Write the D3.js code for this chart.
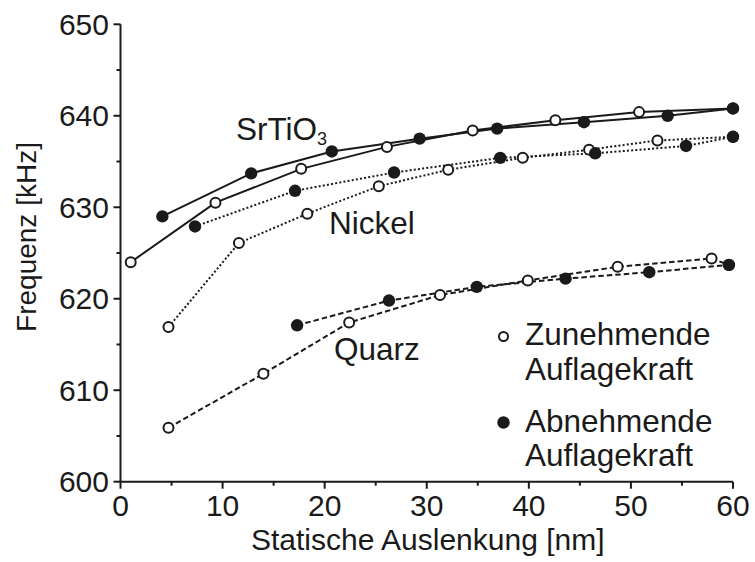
<!DOCTYPE html>
<html>
<head>
<meta charset="utf-8">
<script src="https://cdn.jsdelivr.net/npm/d3@7/dist/d3.min.js"></script>
<style>
  html, body { margin: 0; padding: 0; background: #fff; }
  svg { display: block; }
  text { font-family: "Liberation Sans", Arial, Helvetica, sans-serif; fill: #1a1a1a; }
</style>
</head>
<body>
<svg id="chart" width="755" height="562"></svg>
<script>
// Resonance frequency vs. static deflection, increasing / decreasing load
const xTicks = [0, 10, 20, 30, 40, 50, 60];
const yTicks = [600, 610, 620, 630, 640, 650];

// SrTiO3 (solid line)
const srIncX = [1.0, 9.3, 17.7, 26.1, 34.5, 42.6, 50.8, 60.0];
const srIncY = [624.0, 630.5, 634.2, 636.6, 638.4, 639.5, 640.4, 640.8];
const srDecX = [4.1, 12.8, 20.7, 29.3, 36.9, 45.4, 53.6, 60.0];
const srDecY = [629.0, 633.7, 636.1, 637.5, 638.6, 639.3, 640.0, 640.8];

// Nickel (dotted line)
const niIncX = [4.7, 11.6, 18.3, 25.3, 32.1, 39.4, 45.9, 52.6, 60.0];
const niIncY = [616.9, 626.1, 629.3, 632.3, 634.1, 635.4, 636.3, 637.3, 637.7];
const niDecX = [7.3, 17.1, 26.8, 37.2, 46.5, 55.4, 60.0];
const niDecY = [627.9, 631.8, 633.8, 635.4, 635.9, 636.7, 637.7];

// Quarz (dashed line)
const qzIncX = [4.7, 14.0, 22.4, 31.3, 39.9, 48.7, 57.9, 59.6];
const qzIncY = [605.9, 611.8, 617.4, 620.4, 622.0, 623.5, 624.4, 623.7];
const qzDecX = [17.3, 26.3, 34.9, 43.6, 51.8, 59.6];
const qzDecY = [617.1, 619.8, 621.3, 622.2, 622.9, 623.7];

const zip = (xs, ys) => xs.map((x, i) => [x, ys[i]]);

const series = [
  { inc: zip(srIncX, srIncY), dec: zip(srDecX, srDecY), dash: null },
  { inc: zip(niIncX, niIncY), dec: zip(niDecX, niDecY), dash: "2,2.2" },
  { inc: zip(qzIncX, qzIncY), dec: zip(qzDecX, qzDecY), dash: "5.5,3" }
];

const svg = d3.select("#chart");
const x = d3.scaleLinear().domain([0, 60]).range([120.5, 733]);
const y = d3.scaleLinear().domain([600, 650]).range([481.7, 24.3]);

const FS = 30;
const LFS = 31.5;

// Axes
const ax = svg.append("g").attr("stroke", "#1a1a1a").attr("stroke-width", 2).attr("fill", "none");
ax.append("line").attr("x1", x(0)).attr("x2", x(60)).attr("y1", y(600)).attr("y2", y(600));
ax.append("line").attr("x1", x(0)).attr("x2", x(0)).attr("y1", y(600)).attr("y2", y(650));

d3.range(0, 61, 5).forEach(v => {
  const major = v % 10 === 0;
  ax.append("line").attr("x1", x(v)).attr("x2", x(v))
    .attr("y1", y(600)).attr("y2", y(600) + (major ? 7 : 4));
});
d3.range(600, 651, 5).forEach(v => {
  const major = v % 10 === 0;
  ax.append("line").attr("y1", y(v)).attr("y2", y(v))
    .attr("x1", x(0)).attr("x2", x(0) - (major ? 7 : 4));
});

svg.append("g").selectAll("text").data(xTicks).join("text")
  .attr("x", d => x(d)).attr("y", 516)
  .attr("text-anchor", "middle").attr("font-size", FS)
  .text(d => d);

svg.append("g").selectAll("text").data(yTicks).join("text")
  .attr("x", 109).attr("y", d => y(d) + 10.5)
  .attr("text-anchor", "end").attr("font-size", FS)
  .text(d => d);

svg.append("text").attr("x", (x(0) + x(60)) / 2 + 1).attr("y", 550)
  .attr("text-anchor", "middle").attr("font-size", FS)
  .text("Statische Auslenkung [nm]");

svg.append("text").attr("transform", "translate(36,237) rotate(-90)")
  .attr("text-anchor", "middle").attr("font-size", 28)
  .text("Frequenz [kHz]");

// Curves and markers
const line = d3.line().x(d => x(d[0])).y(d => y(d[1]));
const plot = svg.append("g");
series.forEach(s => {
  [s.inc, s.dec].forEach(pts => {
    plot.append("path").attr("d", line(pts))
      .attr("fill", "none").attr("stroke", "#1a1a1a").attr("stroke-width", 2)
      .attr("stroke-dasharray", s.dash);
  });
});
series.forEach(s => {
  plot.append("g").selectAll("circle").data(s.inc).join("circle")
    .attr("cx", d => x(d[0])).attr("cy", d => y(d[1])).attr("r", 5)
    .attr("fill", "#fff").attr("stroke", "#1a1a1a").attr("stroke-width", 2);
  plot.append("g").selectAll("circle").data(s.dec).join("circle")
    .attr("cx", d => x(d[0])).attr("cy", d => y(d[1])).attr("r", 6.2)
    .attr("fill", "#1a1a1a");
});

// Material labels
const sr = svg.append("text").attr("x", 236).attr("y", 139.5).attr("font-size", LFS);
sr.append("tspan").text("SrTiO");
sr.append("tspan").attr("font-size", 18).attr("dy", 5).text("3");
svg.append("text").attr("x", 329).attr("y", 233.5).attr("font-size", LFS).text("Nickel");
svg.append("text").attr("x", 334).attr("y", 360).attr("font-size", LFS).text("Quarz");

// Legend
const lg = svg.append("g");
lg.append("circle").attr("cx", 503.5).attr("cy", 336.5).attr("r", 4.5)
  .attr("fill", "#fff").attr("stroke", "#1a1a1a").attr("stroke-width", 2);
lg.append("circle").attr("cx", 503.5).attr("cy", 422.5).attr("r", 6.2).attr("fill", "#1a1a1a");
[["Zunehmende", 345], ["Auflagekraft", 380], ["Abnehmende", 431.5], ["Auflagekraft", 466]]
  .forEach(([t, yy]) => {
    lg.append("text").attr("x", 525).attr("y", yy).attr("font-size", LFS).text(t);
  });
</script>
</body>
</html>
